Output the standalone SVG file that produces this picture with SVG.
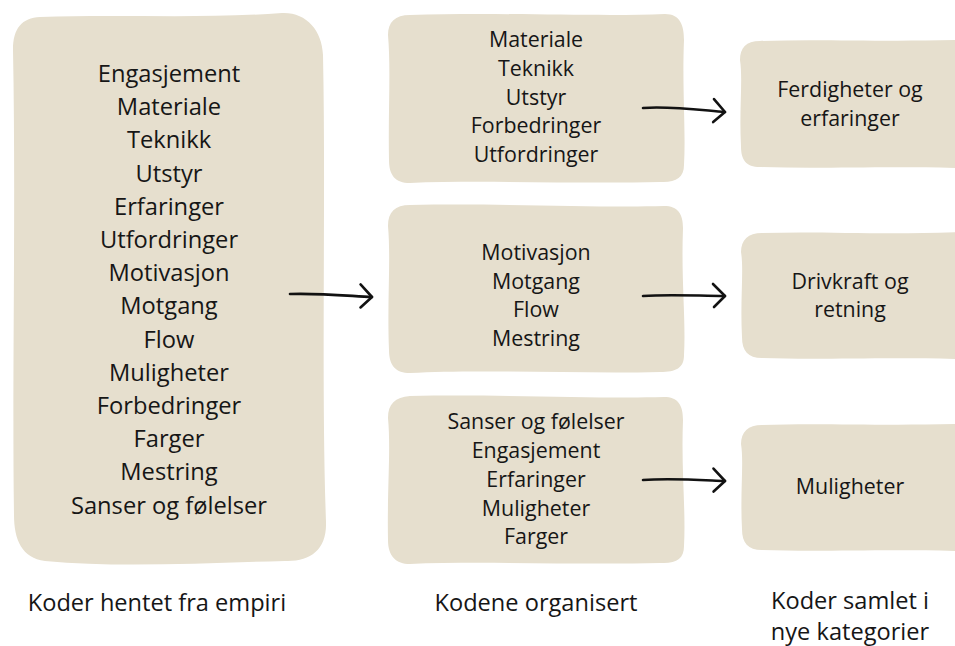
<svg xmlns="http://www.w3.org/2000/svg" width="955" height="646" viewBox="0 0 955 646">
<style>
.blob{fill:#E6DFCE;}
.t{font-family:"Open Sans","Liberation Sans",sans-serif;fill:#161616;text-anchor:middle;}
.big{font-size:23.7px;}
.mid{font-size:21.4px;}
.lbl{font-size:23.6px;}
.con{fill:none;stroke:#121212;stroke-width:2.6;stroke-linecap:round;}
</style>
<defs>
<marker id="arr" viewBox="-16 -16 20 32" markerWidth="20" markerHeight="32" refX="0" refY="0" orient="auto" markerUnits="userSpaceOnUse">
<path d="M-12 -12 Q -5 -5 0 0 Q -5 5 -11 11" fill="none" stroke="#121212" stroke-width="2.6" stroke-linecap="round" stroke-linejoin="round"/>
</marker>
</defs>
<rect width="955" height="646" fill="#ffffff"/>

<g id="n-empiri">
<path class="blob" d="M40 17 C120 14 200 19 282 13 C306 12 322 30 323 55 C326 200 321 380 326 522 C327 550 310 562 285 561 C200 563 120 568 45 561 C22 558 14 540 14 515 C12 380 16 200 13 50 C13 28 22 18 40 17 Z"/>
<text class="t big" x="169" y="82">Engasjement</text>
<text class="t big" x="169" y="115.2">Materiale</text>
<text class="t big" x="169" y="148.4">Teknikk</text>
<text class="t big" x="169" y="181.6">Utstyr</text>
<text class="t big" x="169" y="214.8">Erfaringer</text>
<text class="t big" x="169" y="248">Utfordringer</text>
<text class="t big" x="169" y="281.2">Motivasjon</text>
<text class="t big" x="169" y="314.4">Motgang</text>
<text class="t big" x="169" y="347.6">Flow</text>
<text class="t big" x="169" y="380.8">Muligheter</text>
<text class="t big" x="169" y="414">Forbedringer</text>
<text class="t big" x="169" y="447.2">Farger</text>
<text class="t big" x="169" y="480.4">Mestring</text>
<text class="t big" x="169" y="513.6">Sanser og følelser</text>
</g>

<g id="n-org1">
<path class="blob" d="M410 15 C500 12 600 17 665 14 C680 14 684 25 684 40 C682 90 686 130 684 165 C684 178 675 183 660 182 C580 184 480 180 410 183 C395 183 389 175 389 160 C388 110 391 70 388 35 C388 22 395 15 410 15 Z"/>
<text class="t mid" x="536" y="47">Materiale</text>
<text class="t mid" x="536" y="76">Teknikk</text>
<text class="t mid" x="536" y="104.5">Utstyr</text>
<text class="t mid" x="536" y="133">Forbedringer</text>
<text class="t mid" x="536" y="162">Utfordringer</text>
</g>

<g id="n-org2">
<path class="blob" d="M410 205 C500 203 600 208 664 206 C678 206 683 214 683 228 C681 280 686 320 684 355 C684 368 676 372 660 372 C580 374 480 369 410 373 C396 373 389 366 389 350 C387 300 391 260 388 226 C388 212 395 205 410 205 Z"/>
<text class="t mid" x="536" y="260">Motivasjon</text>
<text class="t mid" x="536" y="289">Motgang</text>
<text class="t mid" x="536" y="317">Flow</text>
<text class="t mid" x="536" y="346">Mestring</text>
</g>

<g id="n-org3">
<path class="blob" d="M410 396 C500 394 600 399 664 397 C678 397 683 405 683 420 C681 470 686 510 684 546 C684 559 676 564 660 563 C580 565 480 561 410 564 C396 564 388 556 388 540 C387 490 391 450 388 418 C388 404 395 397 410 396 Z"/>
<text class="t mid" x="536" y="429">Sanser og følelser</text>
<text class="t mid" x="536" y="458">Engasjement</text>
<text class="t mid" x="536" y="487">Erfaringer</text>
<text class="t mid" x="536" y="515.5">Muligheter</text>
<text class="t mid" x="536" y="544">Farger</text>
</g>

<g id="n-kat1">
<path class="blob" d="M760 41 C820 39 880 42 960 40 L960 168 C880 166 820 169 760 167 C746 167 741 160 741 146 C739 110 743 80 740 60 C740 48 746 41 760 41 Z"/>
<text class="t mid" x="850" y="97">Ferdigheter og</text>
<text class="t mid" x="850" y="126">erfaringer</text>
</g>

<g id="n-kat2">
<path class="blob" d="M762 233 C820 231 880 235 960 232 L960 359 C880 357 820 360 762 358 C748 358 742 351 742 337 C740 300 744 270 741 252 C741 240 748 233 762 233 Z"/>
<text class="t mid" x="850" y="289">Drivkraft og</text>
<text class="t mid" x="850" y="317">retning</text>
</g>

<g id="n-kat3">
<path class="blob" d="M762 425 C820 423 880 426 960 424 L960 551 C880 549 820 552 762 550 C748 550 742 543 742 529 C740 492 744 462 741 444 C741 432 748 425 762 425 Z"/>
<text class="t mid" x="850" y="494">Muligheter</text>
</g>

<g id="connectors">
<path class="con" d="M290 294 C320 293 350 296 372 297" marker-end="url(#arr)"/>
<path class="con" d="M643 108 C670 106 700 110 725 112" marker-end="url(#arr)"/>
<path class="con" d="M643 296 C670 294 700 296 725 296" marker-end="url(#arr)"/>
<path class="con" d="M643 480 C670 478 700 480 725 481" marker-end="url(#arr)"/>
</g>

<g id="labels">
<text class="t lbl" x="157" y="611">Koder hentet fra empiri</text>
<text class="t lbl" x="536" y="611">Kodene organisert</text>
<text class="t lbl" x="850" y="609">Koder samlet i</text>
<text class="t lbl" x="850" y="640">nye kategorier</text>
</g>
</svg>
